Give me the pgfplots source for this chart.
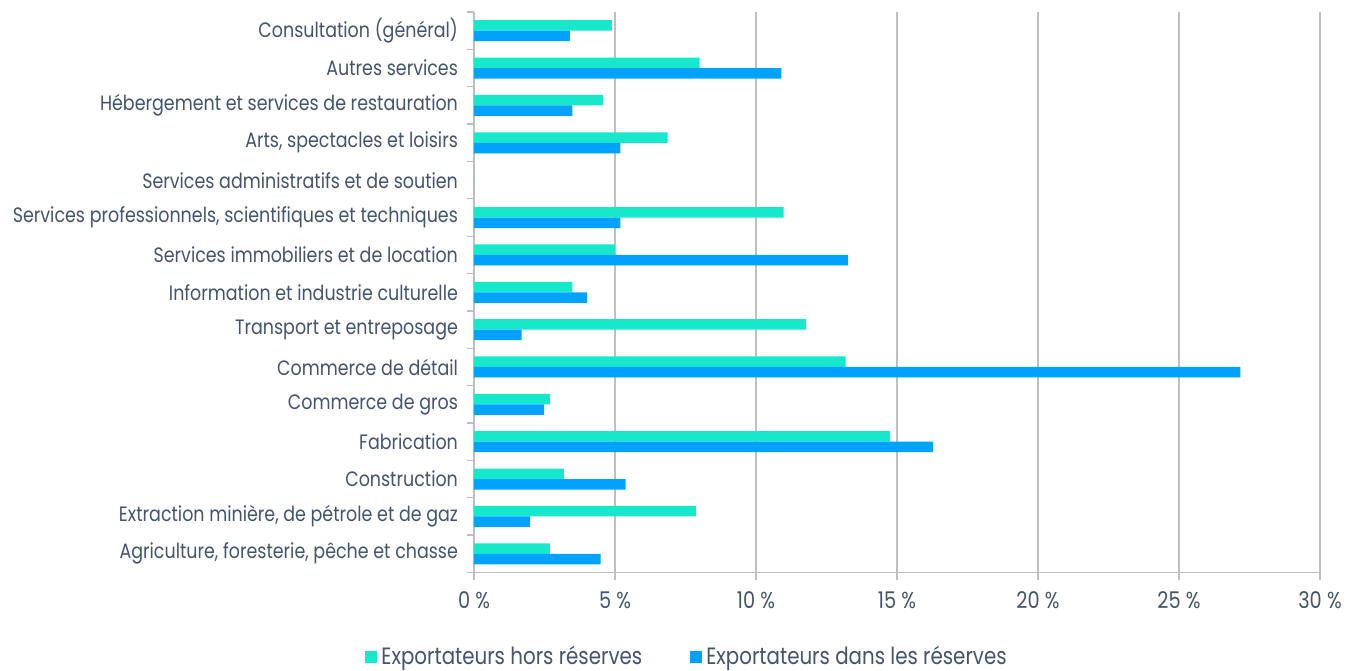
\documentclass[border=0pt]{standalone}
\usepackage{fontspec}
\setmainfont[FakeStretch=0.84]{Poppins}
\usepackage{pgfplots}
\pgfplotsset{compat=1.18}
\definecolor{teal1}{RGB}{23,232,204}
\definecolor{blue1}{RGB}{0,162,255}
\definecolor{txt}{RGB}{68,84,106}
\definecolor{grd}{RGB}{191,191,191}
\begin{document}
\begin{tikzpicture}
\useasboundingbox (-237pt,-48.75pt) rectangle (436.5pt,286.25pt);
\begin{axis}[
  scale only axis, width=423pt, height=280.25pt,
  xbar, bar width=5.25pt,
  xmin=0, xmax=30, ymin=-0.5, ymax=14.5,
  axis x line*=bottom, axis y line*=left,
  axis line style={grd, line width=0.65pt},
  xtick={0,5,...,30},
  xticklabels={0~\%,5~\%,10~\%,15~\%,20~\%,25~\%,30~\%},
  xmajorgrids, major grid style={grd, line width=0.65pt},
  ytick={0,...,14},
  yticklabels={{Agriculture, foresterie, pêche et chasse},
    {Extraction minière, de pétrole et de gaz},
    {Construction},
    {Fabrication},
    {Commerce de gros},
    {Commerce de détail},
    {Transport et entreposage},
    {Information et industrie culturelle},
    {Services immobiliers et de location},
    {Services professionnels, scientifiques et techniques},
    {Services administratifs et de soutien},
    {Arts, spectacles et loisirs},
    {Hébergement et services de restauration},
    {Autres services},
    {Consultation (général)}},
  minor ytick={-0.5,0.5,...,14.5},
  tick align=outside,
  major tick length=3.5pt, minor tick length=3.5pt,
  tick style={grd, line width=0.65pt},
  major y tick style={draw=none},
  yticklabel style={font=\fontsize{10.4}{12}\selectfont, text=txt, xshift=-1pt},
  xticklabel style={font=\fontsize{11.5}{13}\selectfont, text=txt, yshift=-2.5pt},
  legend style={at={(0.253,0)}, anchor=center, yshift=-42pt, draw=none,
    legend columns=2, font=\fontsize{11.8}{14}\selectfont, text=txt,
    /tikz/every even column/.append style={column sep=22pt}},
  legend image code/.code={\fill[#1] (0pt,-3pt) rectangle (6pt,3pt);},
]
\addplot[fill=teal1, draw=none, bar shift=2.625pt] coordinates {
(2.69,0) (7.88,1) (3.19,2) (14.76,3) (2.69,4) (13.18,5) (11.78,6) (3.49,7)
(5.0,8) (10.98,9) (0,10) (6.87,11) (4.57,12) (8.0,13) (4.89,14)};
\addplot[fill=blue1, draw=none, bar shift=-2.625pt] coordinates {
(4.49,0) (1.99,1) (5.38,2) (16.28,3) (2.49,4) (27.18,5) (1.69,6) (4.0,7)
(13.27,8) (5.19,9) (0,10) (5.19,11) (3.49,12) (10.9,13) (3.40,14)};
\legend{Exportateurs hors réserves, Exportateurs dans les réserves}
\end{axis}
\end{tikzpicture}
\end{document}
